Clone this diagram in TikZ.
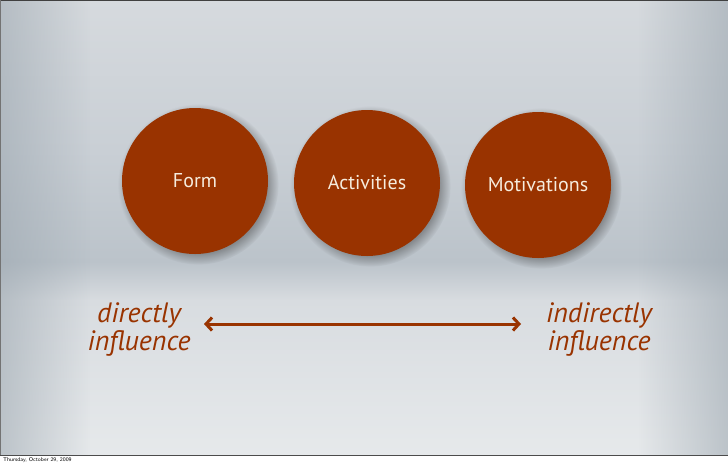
\documentclass[tikz,border=0pt]{standalone}
\usepackage{fontspec}
\setmainfont{PT Sans}
\usetikzlibrary{shadows,arrows.meta,shadings,fadings}
\definecolor{rust}{HTML}{993300}
\definecolor{cream}{HTML}{F6ECDD}
\definecolor{bgA}{HTML}{D6DADE}
\definecolor{bgB}{HTML}{C9CFD5}
\definecolor{bgC}{HTML}{BBC3CA}
\definecolor{bgD}{HTML}{D8DCE0}
\definecolor{bgE}{HTML}{E6E9EB}
\definecolor{bgedge}{HTML}{9AA5AE}
\tikzfading[name=fadeL, left color=transparent!45, right color=transparent!100]
\tikzfading[name=fadeR, left color=transparent!100, right color=transparent!45]
\tikzset{
  ball/.style={circle, fill=rust, minimum size=146pt, inner sep=0pt,
    text=cream, font=\fontsize{20}{22}\selectfont,
    circular drop shadow={shadow xshift=3pt, shadow yshift=-3pt, opacity=0.45, fill=black!75}},
  infl/.style={text=rust, font=\itshape\fontsize{28}{28}\selectfont, align=center},
  link/.style={draw=rust, line width=3pt, {Straight Barb[length=6pt,width=13pt,line width=3pt]}-{Straight Barb[length=6pt,width=13pt,line width=3pt]}}
}
\begin{document}
\begin{tikzpicture}[x=1pt,y=-1pt]
\useasboundingbox (0,0) rectangle (728,464);
% background
\shade[top color=bgA, bottom color=bgB] (0,0) rectangle (728,150.5);
\shade[top color=bgB, bottom color=bgC] (0,150) rectangle (728,262.5);
\shade[top color=bgC, bottom color=bgD] (0,262) rectangle (728,300.5);
\shade[top color=bgD, bottom color=bgE] (0,300) rectangle (728,455);
\fill[bgedge, path fading=fadeL] (0,0) rectangle (90,455);
\fill[bgedge, path fading=fadeR] (638,0) rectangle (728,455);
\draw[black!75, line width=1.2pt] (0,0.6) -- (728,0.6);
\draw[black!55, line width=0.8pt] (0.4,0) -- (0.4,455);
\fill[white] (0,455) rectangle (728,464);
\draw[black!70, line width=0.8pt] (0,455) -- (728,455);
\node[anchor=west, font=\sffamily\fontsize{5.5}{6}\selectfont, text=black, inner sep=0pt] (date) at (3,460) {Thursday, October 29, 2009};
% circles
\node[ball] (form) at (195,181) {Form};
\node[ball] (act) at (367,183) {Activities};
\node[ball] (mot) at (538,185) {Motivations};
% influence labels
\node[infl] (dir) at (139,329) {directly\\influence};
\node[infl] (ind) at (599,329) {indirectly\\influence};
\coordinate (la) at (204,324);
\coordinate (ra) at (521,324);
\draw[link] (la) -- (ra);
\end{tikzpicture}
\end{document}
